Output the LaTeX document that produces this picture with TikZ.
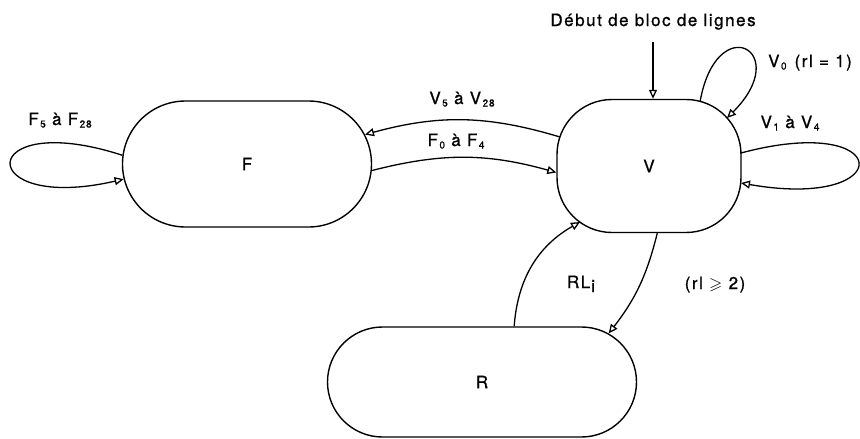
\documentclass[tikz,border=0pt]{standalone}
\usepackage{amssymb}
\usepackage{fontspec}
\setmainfont{TeX Gyre Heros}[LetterSpace=9, FakeBold=1]
\usetikzlibrary{arrows.meta,shapes.misc,calc}
\newcommand\sbs[1]{\hspace{1.5pt}\raisebox{-2.5pt}{\fontsize{10}{10}\selectfont #1}}
\tikzset{
 every node/.style={font=\fontsize{17}{20}\selectfont},
 stad/.style={draw, rounded rectangle, line width=1.4pt, inner sep=0pt},
 vbox/.style={draw, rectangle, rounded corners=55pt, line width=1.4pt, minimum width=184pt, minimum height=133pt},
 arr/.style={line width=1.3pt, -{Triangle[open,length=9pt,width=8pt]}},
 lbl/.style={inner sep=0pt, anchor=base},
}
\begin{document}
\begin{tikzpicture}[x=1pt,y=1pt]
\useasboundingbox (0,-439) rectangle (860,0);
\node[stad, minimum width=249pt, minimum height=126pt] (F) at (247,-164) {F};
\node[vbox] (V) at (649,-166) {V};
\node[stad, minimum width=309pt, minimum height=110pt] (R) at (482,-382) {R};

\coordinate (v0a) at (700,-102);
\coordinate (v0b) at (727,-118);
\coordinate (v14a) at (741,-153);
\coordinate (v14b) at (741,-183);
\coordinate (v5) at (560,-137);
\coordinate (vrl) at (580,-222);
\coordinate (debs) at (653,-42);

\node[lbl] (deb) at (653,-26) {Début de bloc de lignes};
\draw[arr] (debs) -- (debs |- V.north);

\draw[arr] (v5) to[bend right=16] (F.14);
\draw[arr] (F.-3) to[bend left=15] (V.184);
\draw[arr] (F.176) .. controls +(162:155) and +(193:155) .. (F.187);
\draw[arr] (v0a) .. controls +(80:95) and +(45:95) .. (v0b);
\draw[arr] (v14a) .. controls +(15:160) and +(-10:160) .. (v14b);
\draw[arr] (R.60) to[bend left=28] (vrl);
\draw[arr] (V.-83) to[bend left=12] (R.21);

\node[lbl] (lf5) at (60,-125) {F\sbs{5} à F\sbs{28}};
\node[lbl] (lv5) at (462,-104) {V\sbs{5} à V\sbs{28}};
\node[lbl] (lf0) at (456,-146) {F\sbs{0} à F\sbs{4}};
\node[lbl] (lv0) at (810,-67) {V\sbs{0}\hspace{8pt}(rl = 1)};
\node[lbl] (lv1) at (790,-128) {V\sbs{1} à V\sbs{4}};
\node[lbl] (lrl) at (581,-288) {RL\hspace{1pt}\raisebox{-4pt}{i}};
\node[lbl] (lge) at (715,-289) {(rl $\geqslant$ 2)};
\end{tikzpicture}
\end{document}
